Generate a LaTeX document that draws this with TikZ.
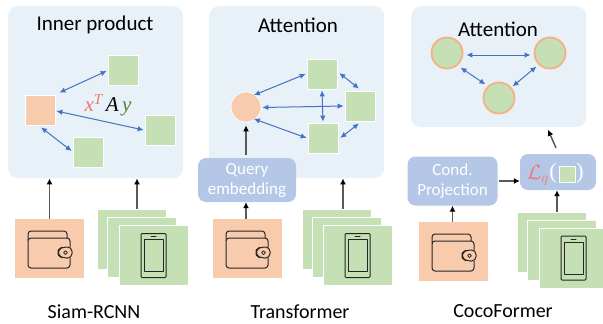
\documentclass[tikz,border=0pt]{standalone}
\usepackage{fontspec}
\setmainfont{Carlito}
\newfontfamily\mathlike{Liberation Serif}[Ligatures=TeX]
\usetikzlibrary{arrows.meta}
\definecolor{panelc}{HTML}{E8F0F8}
\definecolor{orangec}{HTML}{F8CBAD}
\definecolor{greenc}{HTML}{C5E0B4}
\definecolor{boxc}{HTML}{B4C7E7}
\definecolor{linkc}{HTML}{4472C4}
\definecolor{ringc}{HTML}{F4B183}
\definecolor{redt}{HTML}{F0766E}
\definecolor{greent}{HTML}{548235}
\definecolor{stemc}{HTML}{595959}
\tikzset{
  panel/.style={fill=panelc,rounded corners=10pt,inner sep=0pt,anchor=north west},
  title/.style={font=\fontsize{21}{24}\selectfont,text=black,inner sep=0pt},
  caption/.style={font=\fontsize{20}{22}\selectfont,text=black,inner sep=0pt},
  osq/.style={fill=orangec,draw=white,line width=.7pt,minimum size=30pt,inner sep=0pt},
  gsq/.style={fill=greenc,draw=white,line width=.7pt,minimum size=30pt,inner sep=0pt},
  ocirc/.style={circle,fill=orangec,draw=white,line width=.7pt,minimum size=30pt,inner sep=0pt},
  gcirc/.style={circle,fill=greenc,draw=ringc,line width=1.8pt,minimum size=31pt,inner sep=0pt},
  link/.style={draw=linkc,line width=1pt,{Latex[length=6pt,width=5.5pt]}-{Latex[length=6pt,width=5.5pt]}},
  feed/.style={draw=stemc,line width=1.5pt,-{Latex[length=6pt,width=6pt,black]}},
  blue box/.style={fill=boxc,rounded corners=8pt,inner sep=0pt,align=center,text=white,
     font=\fontsize{17}{20}\selectfont},
  crop o/.style={fill=orangec,minimum width=69pt,minimum height=59pt,inner sep=0pt},
  crop g/.style={fill=greenc,draw=white,line width=.5pt,minimum width=69pt,minimum height=60pt,inner sep=0pt},
  icon/.style={draw=black!85,line width=1pt,line join=round,line cap=round},
}
\newcommand{\wallet}[2]{%
 \begin{scope}[shift={(#1,#2)}]
  \draw[icon,rounded corners=3pt] (20,-3) -- (20,-12) -- (-22,-12) -- (-22,18) -- (20,18) -- (20,8);
  \draw[icon,rounded corners=3pt] (-22,-10) -- (-22,-19) -- (17,-19) -- (17,-12);
  \draw[icon,rounded corners=4.5pt] (22,-3) -- (12,-3) -- (8,0) -- (8,5) -- (12,8) -- (22,8) -- cycle;
  \draw[icon,line width=.8pt] (15.5,2.7) circle (1.9);
 \end{scope}}
\newcommand{\phoneicon}[2]{%
 \begin{scope}[shift={(#1,#2)}]
  \draw[icon,rounded corners=1pt] (-12.5,-22) rectangle (12.5,22);
  \draw[icon,line width=.7pt] (-9.5,-16) rectangle (9.5,16);
  \draw[icon] (-2.5,-19) -- (2.5,-19);
 \end{scope}}
\begin{document}
\begin{tikzpicture}[x=1pt,y=-1pt]
\useasboundingbox (0,0) rectangle (603,324);
% ---------- panel 1
\node[panel,minimum width=175pt,minimum height=172pt] (p1) at (8,6) {};
\node[title] (t1) at (95,25) {Inner product};
\node[osq] (a0) at (40,110) {};
\node[gsq] (a1) at (123,70) {};
\node[gsq] (a2) at (160,130) {};
\node[gsq] (a3) at (88,152) {};
\draw[link] ([shift={(4,-2)}]a0.north east) -- ([shift={(-1,1)}]a1.west);
\draw[link] ([shift={(1,1)}]a0.east) -- ([shift={(-1,0)}]a2.west);
\draw[link] ([shift={(1,2)}]a0.south) -- ([shift={(-1,-1)}]a3.west);
\node[inner sep=0pt,font=\fontsize{21}{22}\selectfont\mathlike\itshape,anchor=center] (f1) at (108,105)
  {\textcolor{redt}{x\raisebox{7pt}{\fontsize{15}{16}\selectfont T}}\,A\,\textcolor{greent}{y}};
\node[crop o] (w1) at (49.5,248.5) {};
\wallet{50}{250}
\node[crop g] (s1a) at (131.5,239) {};
\node[crop g] (s1b) at (141.5,247) {};
\node[crop g] (s1c) at (153.5,255) {};
\phoneicon{153.5}{255.5}
\draw[feed] (w1.north) -- (p1.south -| w1.north);
\draw[feed] (s1a.north -| 137,0) -- (p1.south -| 137,0);
\node[caption] (c1) at (94,311.5) {Siam-RCNN};
% ---------- panel 2
\node[panel,minimum width=175pt,minimum height=172pt] (p2) at (209,6) {};
\node[title] (t2) at (298,25) {Attention};
\node[ocirc] (b0) at (246,107) {};
\node[gsq] (b1) at (322,74) {};
\node[gsq] (b2) at (360,106) {};
\node[gsq] (b3) at (323,138) {};
\draw[link] ([shift={(-3,-1)}]b0.north east) -- ([shift={(-1,0)}]b1.west);
\draw[link] ([shift={(1,0.5)}]b0.east) -- ([shift={(-1,0)}]b2.west);
\draw[link] ([shift={(-3,1)}]b0.south east) -- ([shift={(-1,0)}]b3.west);
\draw[link] ([shift={(0,1)}]b1.south) -- ([shift={(0,-1)}]b3.north);
\draw[link] ([shift={(2,-1)}]b1.east) -- ([shift={(-1,-2)}]b2.north);
\draw[link] ([shift={(2,0)}]b3.east) -- ([shift={(-1,2)}]b2.south);
\node[blue box,minimum width=98pt,minimum height=44pt] (q) at (247,180) {Query\\embedding};
\draw[feed] ([shift={(0,-3)}]q.north -| b0.south) -- ([shift={(0,3)}]b0.south);
\node[crop o] (w2) at (247.5,248.5) {};
\wallet{248}{250}
\node[crop g] (s2a) at (336.5,239) {};
\node[crop g] (s2b) at (346.5,247) {};
\node[crop g] (s2c) at (357.5,255) {};
\phoneicon{357.5}{255.5}
\draw[feed] (w2.north -| b0.south) -- (q.south -| b0.south);
\draw[feed] (s2a.north -| 343,0) -- (p2.south -| 343,0);
\node[caption] (c2) at (300,311.5) {Transformer};
% ---------- panel 3
\node[panel,minimum width=175pt,minimum height=121pt] (p3) at (411,6) {};
\node[title] (t3) at (498,29) {Attention};
\node[gcirc] (d1) at (447,53) {};
\node[gcirc] (d2) at (550,53) {};
\node[gcirc] (d3) at (499,98) {};
\draw[link] ([shift={(3,2)}]d1.east) -- ([shift={(-3,2)}]d2.west);
\draw[link] ([shift={(2,3)}]d1.south east) -- ([shift={(-2,-2)}]d3.north west);
\draw[link] ([shift={(2,0)}]d3.north east) -- ([shift={(-2,2)}]d2.south west);
\node[blue box,minimum width=90pt,minimum height=49pt] (cp) at (452.5,181) {Cond.\\Projection};
\node[blue box,minimum width=76pt,minimum height=36pt] (lq) at (558,172) {};
\node[inner sep=0pt,font=\fontsize{21}{24}\selectfont,text=redt] (lqm) at (538,175) {$\mathcal{L}_q$};
\node[inner sep=0pt,font=\fontsize{22}{24}\selectfont\mathlike,text=white] (lp) at (553,173.5) {(};
\node[fill=greenc,draw=white,line width=.9pt,minimum size=16pt,inner sep=0pt] (lqs) at (567,174.5) {};
\node[inner sep=0pt,font=\fontsize{22}{24}\selectfont\mathlike,text=white] (rp) at (580,173.5) {)};
\draw[feed] ([shift={(1,0)}]cp.east) -- (lq.west |- cp.east);
\draw[feed] ([shift={(-2,-6)}]lq.north) -- ([shift={(-10,-24)}]lq.north);
\node[crop o] (w3) at (453.5,251.5) {};
\wallet{454}{253}
\node[crop g] (s3a) at (551.5,242) {};
\node[crop g] (s3b) at (561.5,250) {};
\node[crop g] (s3c) at (573.5,258) {};
\phoneicon{573.5}{258}
\draw[feed] (w3.north -| cp.south) -- (cp.south);
\draw[feed] (s3a.north -| 557,0) -- (lq.south -| 557,0);
\node[caption] (c3) at (503,311.5) {CocoFormer};
\end{tikzpicture}
\end{document}
